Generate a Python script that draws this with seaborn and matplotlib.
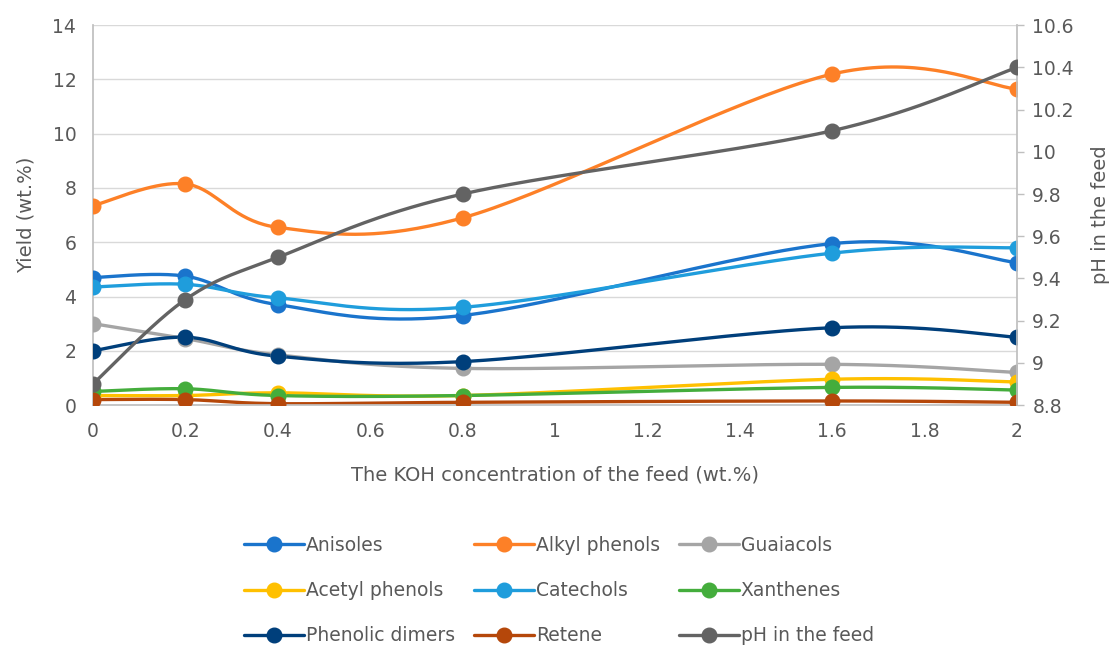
import numpy as np
import pandas as pd
import matplotlib
matplotlib.use("Agg")
import matplotlib.pyplot as plt
from matplotlib.lines import Line2D
import seaborn as sns

koh = [0, 0.2, 0.4, 0.8, 1.6, 2]

anisoles = [4.7, 4.75, 3.7, 3.3, 5.95, 5.25]
alkyl_phenols = [7.35, 8.15, 6.55, 6.9, 12.2, 11.65]
guaiacols = [3.0, 2.45, 1.85, 1.35, 1.5, 1.2]
acetyl_phenols = [0.35, 0.35, 0.45, 0.35, 0.95, 0.85]
catechols = [4.35, 4.45, 3.95, 3.6, 5.6, 5.8]
xanthenes = [0.5, 0.6, 0.35, 0.35, 0.65, 0.55]
phenolic_dimers = [2.0, 2.5, 1.8, 1.6, 2.85, 2.5]
retene = [0.2, 0.2, 0.05, 0.1, 0.15, 0.1]
ph_feed = [8.9, 9.3, 9.5, 9.8, 10.1, 10.4]

yield_series = [
    ("Anisoles", anisoles, "#1a74cc"),
    ("Alkyl phenols", alkyl_phenols, "#fd8027"),
    ("Guaiacols", guaiacols, "#a5a5a5"),
    ("Acetyl phenols", acetyl_phenols, "#ffc000"),
    ("Catechols", catechols, "#1f9ddc"),
    ("Xanthenes", xanthenes, "#44ad3c"),
    ("Phenolic dimers", phenolic_dimers, "#003f7b"),
    ("Retene", retene, "#b5470a"),
]
ph_color = "#636363"
text_color = "#595959"


def smooth(x, y, n=40):
    # Excel-like smoothed line: cubic Bezier with Catmull-Rom control points
    p = np.column_stack([x, y]).astype(float)
    p = np.vstack([p[0], p, p[-1]])
    out = []
    t = np.linspace(0, 1, n)[:, None]
    for i in range(1, len(p) - 2):
        p0, p1, p2, p3 = p[i - 1], p[i], p[i + 1], p[i + 2]
        c1 = p1 + (p2 - p0) / 6
        c2 = p2 - (p3 - p1) / 6
        seg = ((1 - t) ** 3) * p1 + 3 * ((1 - t) ** 2) * t * c1 + 3 * (1 - t) * t ** 2 * c2 + t ** 3 * p2
        out.append(seg if i == 1 else seg[1:])
    seg = np.vstack(out)
    return pd.DataFrame({"x": seg[:, 0], "y": seg[:, 1]})


sns.set_theme(style="white")
plt.rcParams["font.family"] = ["DejaVu Sans"]

fig, ax = plt.subplots(figsize=(11.18, 6.47), dpi=100)
fig.subplots_adjust(left=0.0832, right=0.9097, bottom=0.374, top=0.961)
ax2 = ax.twinx()

lw, ms = 2.4, 10.5
handles = []
for name, vals, col in yield_series:
    sdf = smooth(koh, vals)
    sns.lineplot(data=sdf, x="x", y="y", ax=ax, color=col, linewidth=lw, sort=False, estimator=None)
    ax.plot(koh, vals, "o", color=col, markersize=ms, zorder=5)
    handles.append(Line2D([], [], color=col, linewidth=lw, marker="o", markersize=ms, label=name))

sdf = smooth(koh, ph_feed)
sns.lineplot(data=sdf, x="x", y="y", ax=ax2, color=ph_color, linewidth=lw, sort=False, estimator=None)
ax2.plot(koh, ph_feed, "o", color=ph_color, markersize=ms, zorder=5)
handles.append(Line2D([], [], color=ph_color, linewidth=lw, marker="o", markersize=ms, label="pH in the feed"))

ax.set_xlim(0, 2)
ax.set_ylim(0, 14)
ax2.set_ylim(8.8, 10.6)
ax.set_xticks(np.arange(0, 2.01, 0.2))
ax.set_xticklabels(["0", "0.2", "0.4", "0.6", "0.8", "1", "1.2", "1.4", "1.6", "1.8", "2"])
ax.set_yticks(np.arange(0, 15, 2))
ax2.set_yticks(np.arange(8.8, 10.61, 0.2))
ax2.set_yticklabels(["8.8", "9", "9.2", "9.4", "9.6", "9.8", "10", "10.2", "10.4", "10.6"])

ax.grid(axis="y", color="#d9d9d9", linewidth=1)
ax.set_axisbelow(True)
for a in (ax, ax2):
    for s in a.spines.values():
        s.set_visible(False)
ax.spines["left"].set_visible(True)
ax.spines["left"].set_color("#bfbfbf")
ax.spines["bottom"].set_visible(True)
ax.spines["bottom"].set_color("#bfbfbf")
ax2.spines["right"].set_visible(True)
ax2.spines["right"].set_color("#bfbfbf")

ax.tick_params(axis="y", labelsize=13.5, colors=text_color, length=0, pad=12)
ax.tick_params(axis="x", labelsize=13.5, colors=text_color, length=0, pad=12)
ax2.tick_params(axis="y", labelsize=13.5, colors=text_color, length=5, width=1, pad=6)
ax2.tick_params(axis="y", color="#bfbfbf")

ax.set_xlabel("The KOH concentration of the feed (wt.%)", fontsize=14, color=text_color, labelpad=18)
ax.set_ylabel("Yield (wt.%)", fontsize=14, color=text_color, labelpad=12)
ax2.set_ylabel("pH in the feed", fontsize=14, color=text_color, labelpad=12)

# matplotlib fills legend columns first; reorder so rows read like the original
order = [0, 3, 6, 1, 4, 7, 2, 5, 8]
fig.legend(handles=[handles[i] for i in order], loc="center", bbox_to_anchor=(0.5, 0.087), ncol=3,
           frameon=False, fontsize=13.5, handlelength=3.2, columnspacing=1.0, handletextpad=0.1,
           labelspacing=1.4, labelcolor=text_color)

fig.savefig("out.png", dpi=100)
